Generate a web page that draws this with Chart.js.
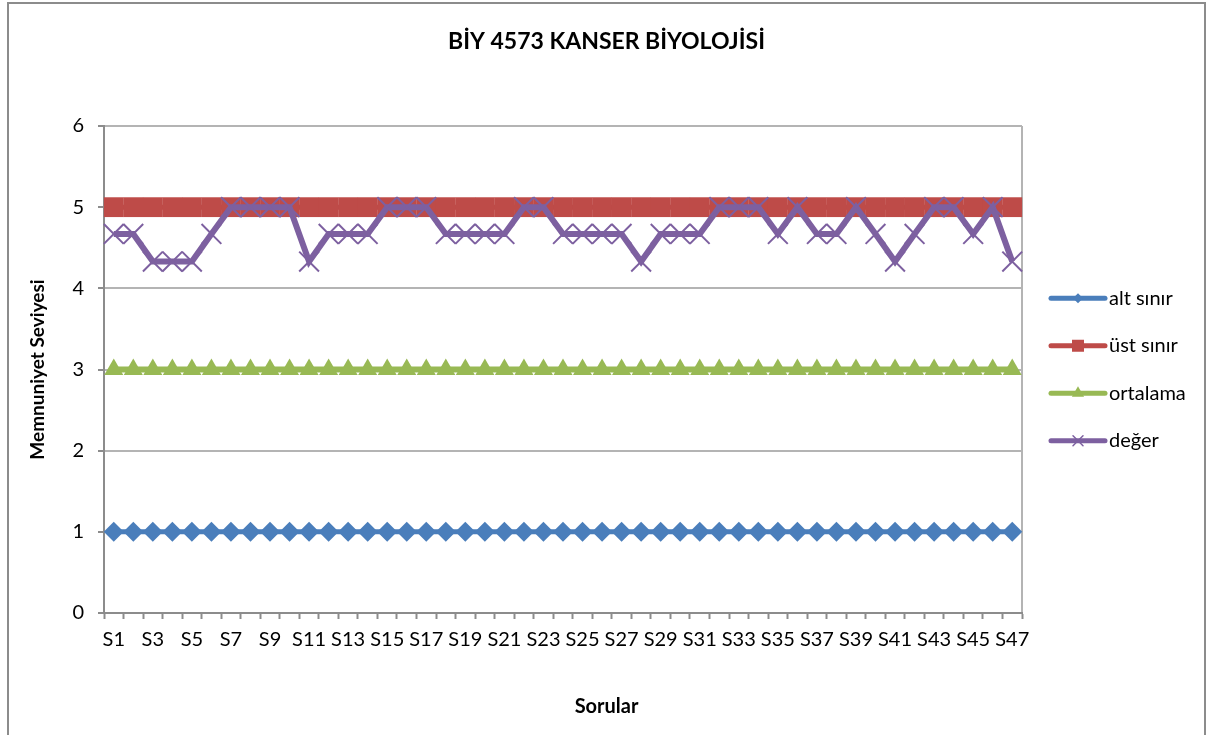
<!DOCTYPE html>
<html>
<head>
<meta charset="utf-8">
<script src="https://cdn.jsdelivr.net/npm/chart.js@4"></script>
<style>
  html, body { margin: 0; padding: 0; background: #fff; }
  #wrap { width: 1213px; height: 735px; position: relative; }
</style>
</head>
<body>
<div id="wrap"><canvas id="chart"></canvas></div>
<script>
// Question labels on the x axis
const sorular = [
  'S1', 'S2', 'S3', 'S4', 'S5', 'S6', 'S7', 'S8', 'S9', 'S10',
  'S11', 'S12', 'S13', 'S14', 'S15', 'S16', 'S17', 'S18', 'S19', 'S20',
  'S21', 'S22', 'S23', 'S24', 'S25', 'S26', 'S27', 'S28', 'S29', 'S30',
  'S31', 'S32', 'S33', 'S34', 'S35', 'S36', 'S37', 'S38', 'S39', 'S40',
  'S41', 'S42', 'S43', 'S44', 'S45', 'S46', 'S47'
];

// Lower limit, upper limit and midpoint of the scale
const altSinir = [
  1, 1, 1, 1, 1, 1, 1, 1, 1, 1, 1, 1, 1, 1, 1, 1, 1, 1, 1, 1, 1, 1, 1, 1,
  1, 1, 1, 1, 1, 1, 1, 1, 1, 1, 1, 1, 1, 1, 1, 1, 1, 1, 1, 1, 1, 1, 1
];
const ustSinir = [
  5, 5, 5, 5, 5, 5, 5, 5, 5, 5, 5, 5, 5, 5, 5, 5, 5, 5, 5, 5, 5, 5, 5, 5,
  5, 5, 5, 5, 5, 5, 5, 5, 5, 5, 5, 5, 5, 5, 5, 5, 5, 5, 5, 5, 5, 5, 5
];
const ortalama = [
  3, 3, 3, 3, 3, 3, 3, 3, 3, 3, 3, 3, 3, 3, 3, 3, 3, 3, 3, 3, 3, 3, 3, 3,
  3, 3, 3, 3, 3, 3, 3, 3, 3, 3, 3, 3, 3, 3, 3, 3, 3, 3, 3, 3, 3, 3, 3
];

// Mean satisfaction score per question
const deger = [
  4.67, 4.67, 4.33, 4.33, 4.33, 4.67, 5, 5, 5, 5,
  4.33, 4.67, 4.67, 4.67, 5, 5, 5, 4.67, 4.67, 4.67,
  4.67, 5, 5, 4.67, 4.67, 4.67, 4.67, 4.33, 4.67, 4.67,
  4.67, 5, 5, 5, 4.67, 5, 4.67, 4.67, 5, 4.67,
  4.33, 4.67, 5, 5, 4.67, 5, 4.33
];

const yTicks = [0, 1, 2, 3, 4, 5, 6];

const FONT = 'Lato, "Open Sans", sans-serif';
const BLUE = '#4A7EBB';
const RED = '#BE4B48';
const GREEN = '#98B954';
const PURPLE = '#7D60A0';

// White page, outer frame and plot frame
const framePlugin = {
  id: 'frame',
  beforeDraw(chart) {
    const ctx = chart.ctx;
    ctx.save();
    ctx.fillStyle = '#fff';
    ctx.fillRect(0, 0, chart.width, chart.height);
    ctx.strokeStyle = '#8c8c8c';
    ctx.lineWidth = 2;
    ctx.strokeRect(8, 3, 1197, chart.height + 10);
    const a = chart.chartArea;
    ctx.strokeStyle = '#b4b4b4';
    ctx.lineWidth = 2;
    ctx.beginPath();
    ctx.moveTo(a.right, a.top);
    ctx.lineTo(a.right, a.bottom);
    ctx.stroke();
    ctx.restore();
  }
};

// Small marker shapes for the legend
function drawMarker(ctx, style, x, y, r, color) {
  ctx.fillStyle = color;
  ctx.strokeStyle = color;
  ctx.beginPath();
  if (style === 'rectRot') {
    ctx.moveTo(x - r, y); ctx.lineTo(x, y - r); ctx.lineTo(x + r, y); ctx.lineTo(x, y + r);
    ctx.closePath(); ctx.fill();
  } else if (style === 'rect') {
    ctx.rect(x - r, y - r, 2 * r, 2 * r); ctx.fill();
  } else if (style === 'triangle') {
    ctx.moveTo(x, y - r); ctx.lineTo(x + r * 0.87, y + r / 2); ctx.lineTo(x - r * 0.87, y + r / 2);
    ctx.closePath(); ctx.fill();
  } else {
    ctx.lineWidth = 1.5;
    ctx.moveTo(x - r, y - r); ctx.lineTo(x + r, y + r);
    ctx.moveTo(x + r, y - r); ctx.lineTo(x - r, y + r);
    ctx.stroke();
  }
}

// Legend to the right of the plot: line with marker and name
const sideLegend = {
  id: 'sideLegend',
  afterDraw(chart) {
    const ctx = chart.ctx;
    const a = chart.chartArea;
    const mid = (a.top + a.bottom) / 2;
    const gap = 47.5;
    const sizes = [5, 6, 7, 5];
    ctx.save();
    chart.data.datasets.forEach((ds, i) => {
      const y = mid + (i - 1.5) * gap;
      const x0 = a.right + 29;
      const x1 = a.right + 83;
      ctx.strokeStyle = ds.borderColor;
      ctx.lineWidth = 5;
      ctx.lineCap = 'round';
      ctx.beginPath();
      ctx.moveTo(x0, y);
      ctx.lineTo(x1, y);
      ctx.stroke();
      drawMarker(ctx, ds.pointStyle, (x0 + x1) / 2, y, sizes[i], ds.borderColor);
      ctx.fillStyle = '#000';
      ctx.font = '20px ' + FONT;
      ctx.textBaseline = 'middle';
      ctx.textAlign = 'left';
      ctx.fillText(ds.label, a.right + 87, y);
    });
    ctx.restore();
  }
};

new Chart(document.getElementById('chart'), {
  type: 'line',
  data: {
    labels: sorular,
    datasets: [
      {
        label: 'alt sınır',
        data: altSinir,
        borderColor: BLUE,
        backgroundColor: BLUE,
        borderWidth: 5,
        pointStyle: 'rectRot',
        pointRadius: 10,
        pointBorderWidth: 0,
        order: 3
      },
      {
        label: 'üst sınır',
        data: ustSinir,
        borderColor: RED,
        backgroundColor: RED,
        borderWidth: 5,
        pointStyle: 'rect',
        pointRadius: 14,
        pointBorderWidth: 0,
        order: 2
      },
      {
        label: 'ortalama',
        data: ortalama,
        borderColor: GREEN,
        backgroundColor: GREEN,
        borderWidth: 6,
        pointStyle: 'triangle',
        pointRadius: 11,
        pointBorderWidth: 0,
        order: 1
      },
      {
        label: 'değer',
        data: deger,
        borderColor: PURPLE,
        backgroundColor: PURPLE,
        borderWidth: 6,
        pointStyle: 'crossRot',
        pointRadius: 14,
        pointBorderWidth: 2,
        order: 0
      }
    ]
  },
  options: {
    responsive: true,
    maintainAspectRatio: false,
    animation: false,
    events: [],
    layout: { padding: 0 },
    elements: { line: { tension: 0 } },
    plugins: {
      legend: { display: false },
      tooltip: { enabled: false },
      title: {
        display: true,
        text: 'BİY 4573 KANSER BİYOLOJİSİ',
        color: '#000',
        font: { family: FONT, size: 23, weight: 'bold' },
        padding: { top: 28, bottom: 70.4 }
      },
      subtitle: {
        display: true,
        position: 'bottom',
        text: 'Sorular',
        color: '#000',
        font: { family: FONT, size: 20, weight: 'bold' },
        padding: { top: 0, bottom: 16 }
      }
    },
    scales: {
      x: {
        offset: true,
        afterFit(scale) { scale.height = 735 - 613 - 40; },
        grid: {
          offset: true,
          drawOnChartArea: false,
          drawTicks: true,
          tickLength: 6,
          tickColor: '#8c8c8c',
          tickWidth: 2
        },
        border: { color: '#8c8c8c', width: 2 },
        ticks: {
          autoSkip: false,
          maxRotation: 0,
          padding: 9,
          color: '#000',
          font: { family: FONT, size: 20 },
          callback: (v, i) => (i % 2 === 0 ? sorular[i] : '')
        }
      },
      y: {
        min: yTicks[0],
        max: yTicks[yTicks.length - 1],
        afterFit(scale) { scale.width = 104; },
        afterBuildTicks(scale) { scale.ticks = yTicks.map(v => ({ value: v })); },
        grid: {
          color: '#b4b4b4',
          lineWidth: 2,
          tickLength: 6,
          tickColor: '#8c8c8c',
          tickWidth: 2
        },
        border: { color: '#8c8c8c', width: 2 },
        ticks: {
          padding: 14,
          color: '#000',
          font: { family: FONT, size: 20 }
        },
        title: {
          display: true,
          text: 'Memnuniyet Seviyesi',
          color: '#000',
          font: { family: FONT, size: 19, weight: 'bold' },
          padding: { top: 26.6, bottom: 0 }
        }
      },
      // Empty strip on the right that holds the legend
      legendSpace: {
        position: 'right',
        afterFit(scale) { scale.width = 191; },
        grid: { display: false },
        border: { display: false },
        ticks: { display: false }
      }
    }
  },
  plugins: [framePlugin, sideLegend]
});
</script>
</body>
</html>
